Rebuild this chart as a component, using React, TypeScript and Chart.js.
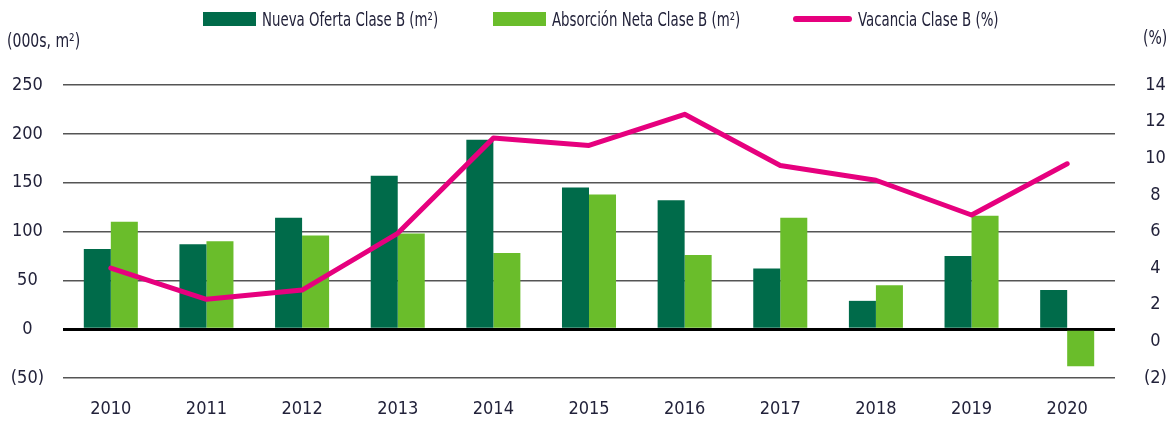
import React, { useEffect, useRef } from "react";
import { Chart, registerables } from "chart.js";

Chart.register(...registerables);

const years = ["2010", "2011", "2012", "2013", "2014", "2015", "2016", "2017", "2018", "2019", "2020"];
const nuevaOferta = [82, 87, 114, 157, 194, 145, 132, 62, 29, 75, 40];
const absorcionNeta = [110, 90, 96, 98, 78, 138, 76, 114, 45, 116, -38];
const vacancia = [4.0, 2.3, 2.8, 5.9, 11.1, 10.7, 12.4, 9.6, 8.8, 6.9, 9.7];

const legendNames = ["Nueva Oferta Clase B (m²)", "Absorción Neta Clase B (m²)", "Vacancia Clase B (%)"];
const leftTitle = "(000s, m²)";
const rightTitle = "(%)";

const DARK = "#006b4a";
const LIGHT = "#6abd2b";
const PINK = "#e6007e";
const FONT = "'Liberation Sans Narrow', 'DejaVu Sans Condensed', sans-serif";
const TEXT = "#22223a";

const fmt = (v: number) => (v < 0 ? `(${Math.abs(v)})` : `${v}`);

export default function App() {
  const ref = useRef<HTMLCanvasElement | null>(null);
  useEffect(() => {
    if (!ref.current) return;
    const titles = {
      id: "axisTitles",
      afterDraw(chart: any) {
        const ctx = chart.ctx;
        const draw = (t: string, x: number, y: number) => {
          ctx.save();
          ctx.fillStyle = TEXT;
          ctx.font = `19px ${FONT}`;
          ctx.textBaseline = "middle";
          ctx.textAlign = "left";
          ctx.translate(x, y);
          ctx.scale(0.82, 1);
          ctx.fillText(t, 0, 0);
          ctx.restore();
        };
        draw(leftTitle, 7, 42);
        draw(rightTitle, 1143, 39);
      },
    };
    const chart = new Chart(ref.current, {
      type: "bar",
      data: {
        labels: years,
        datasets: [
          {
            type: "line",
            label: legendNames[2],
            data: vacancia,
            yAxisID: "y1",
            borderColor: PINK,
            backgroundColor: PINK,
            borderWidth: 5,
            pointRadius: 0,
            tension: 0,
            borderCapStyle: "round",
            borderJoinStyle: "round",
            order: 0,
          } as any,
          {
            label: legendNames[0],
            data: nuevaOferta,
            backgroundColor: DARK,
            yAxisID: "y",
            order: 1,
            categoryPercentage: 0.565,
            barPercentage: 1,
          },
          {
            label: legendNames[1],
            data: absorcionNeta,
            backgroundColor: LIGHT,
            yAxisID: "y",
            order: 1,
            categoryPercentage: 0.565,
            barPercentage: 1,
          },
        ],
      },
      options: {
        animation: false,
        responsive: false,
        maintainAspectRatio: false,
        layout: { padding: { top: 85, left: 0, right: 0, bottom: 0 } },
        plugins: { legend: { display: false }, tooltip: { enabled: false } },
        scales: {
          x: {
            offset: true,
            grid: { display: false, drawTicks: false },
            border: { display: false },
            ticks: { color: TEXT, font: { family: FONT, size: 18 }, padding: 21 },
            afterFit: (s: any) => { s.height = 48; },
          },
          y: {
            position: "left",
            min: -50,
            max: 250,
            border: { display: false },
            grid: {
              drawTicks: false,
              color: (c: any) => (c.tick && c.tick.value === 0 ? "#000" : "#555"),
              lineWidth: (c: any) => (c.tick && c.tick.value === 0 ? 3 : 1.5),
            },
            ticks: {
              stepSize: 50,
              color: TEXT,
              font: { family: FONT, size: 18 },
              padding: 19,
              crossAlign: "center",
              callback: (v: any) => fmt(Number(v)),
            },
            afterFit: (s: any) => { s.width = 63; },
          },
          y1: {
            position: "right",
            min: -2,
            max: 14,
            border: { display: false },
            grid: { display: false, drawTicks: false },
            ticks: {
              stepSize: 2,
              color: TEXT,
              font: { family: FONT, size: 18 },
              padding: 29,
              crossAlign: "center",
              callback: (v: any) => fmt(Number(v)),
            },
            afterFit: (s: any) => { s.width = 52; },
          },
        },
      },
      plugins: [titles],
    } as any);
    return () => chart.destroy();
  }, []);

  const legendItem = (left: number, swatch: React.ReactNode, text: string) => (
    <div style={{ position: "absolute", left, top: 6, height: 26, display: "flex", alignItems: "center" }}>
      {swatch}
      <span
        style={{
          marginLeft: 6,
          fontFamily: FONT,
          fontSize: 19,
          color: TEXT,
          whiteSpace: "nowrap",
          display: "inline-block",
          transform: "scaleX(0.78)",
          transformOrigin: "left center",
        }}
      >
        {text}
      </span>
    </div>
  );

  return (
    <div style={{ position: "fixed", left: 0, top: 0, width: 1167, height: 426, background: "#fff" }}>
      <canvas ref={ref} width={1167} height={426} style={{ position: "absolute", left: 0, top: 0 }} />
      {legendItem(203, <div style={{ width: 53, height: 14, background: DARK }} />, legendNames[0])}
      {legendItem(493, <div style={{ width: 53, height: 14, background: LIGHT }} />, legendNames[1])}
      {legendItem(793, <div style={{ width: 59, height: 6, borderRadius: 3, background: PINK }} />, legendNames[2])}
    </div>
  );
}
